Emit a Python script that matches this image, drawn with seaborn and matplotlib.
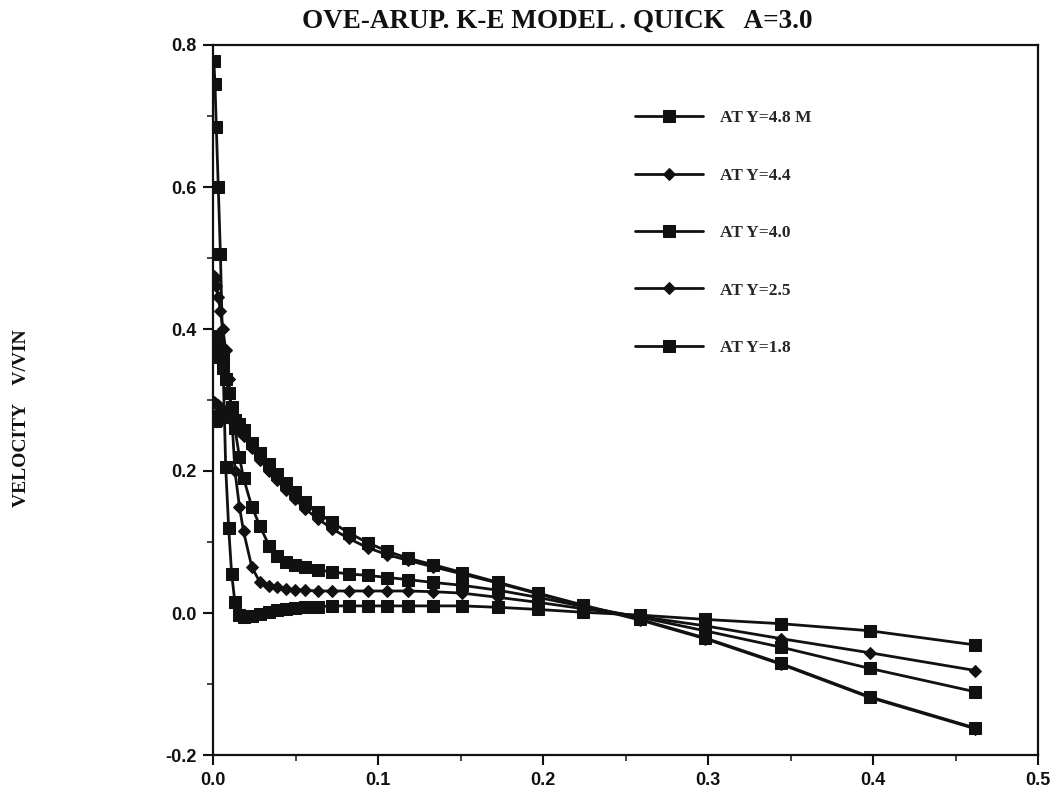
import matplotlib
matplotlib.use("Agg")
import matplotlib.pyplot as plt
from matplotlib.ticker import MultipleLocator
import seaborn as sns

# grid positions across the width (m) - same for every profile
x_pos = [0.0005, 0.0012, 0.002, 0.0032, 0.0045, 0.006, 0.0077, 0.0095, 0.0113, 0.0133,
         0.016, 0.0185, 0.0235, 0.0285, 0.034, 0.039, 0.0445, 0.0497, 0.0556, 0.0634,
         0.0719, 0.0822, 0.0937, 0.1057, 0.1184, 0.1335, 0.151, 0.173, 0.197, 0.2245,
         0.259, 0.298, 0.344, 0.398, 0.462]

# velocity profiles V/VIN
v_48 = [0.778, 0.745, 0.685, 0.600, 0.505, 0.360, 0.205, 0.120, 0.055, 0.015,
        -0.003, -0.006, -0.004, -0.001, 0.002, 0.004, 0.006, 0.007, 0.008, 0.009,
        0.010, 0.010, 0.010, 0.010, 0.010, 0.010, 0.010, 0.008, 0.005, 0.001,
        -0.003, -0.009, -0.015, -0.025, -0.045]
v_44 = [0.475, 0.470, 0.460, 0.445, 0.425, 0.400, 0.370, 0.330, 0.280, 0.200,
        0.150, 0.115, 0.065, 0.043, 0.038, 0.036, 0.034, 0.033, 0.032, 0.031,
        0.031, 0.031, 0.031, 0.031, 0.031, 0.030, 0.028, 0.022, 0.015, 0.006,
        -0.005, -0.018, -0.036, -0.056, -0.081]
v_40 = [0.390, 0.385, 0.380, 0.370, 0.360, 0.345, 0.330, 0.310, 0.290, 0.260,
        0.220, 0.190, 0.150, 0.122, 0.095, 0.080, 0.072, 0.068, 0.065, 0.061,
        0.058, 0.055, 0.053, 0.050, 0.047, 0.043, 0.039, 0.032, 0.022, 0.009,
        -0.006, -0.025, -0.048, -0.078, -0.111]
v_25 = [0.297, 0.296, 0.295, 0.293, 0.290, 0.286, 0.281, 0.276, 0.270, 0.264,
        0.257, 0.250, 0.232, 0.216, 0.200, 0.187, 0.173, 0.160, 0.147, 0.133,
        0.119, 0.105, 0.092, 0.082, 0.074, 0.065, 0.055, 0.042, 0.027, 0.010,
        -0.010, -0.036, -0.072, -0.119, -0.163]
v_18 = [0.270, 0.271, 0.272, 0.275, 0.278, 0.280, 0.280, 0.279, 0.276, 0.272,
        0.266, 0.258, 0.240, 0.225, 0.210, 0.196, 0.183, 0.170, 0.157, 0.142,
        0.128, 0.113, 0.099, 0.087, 0.077, 0.068, 0.057, 0.043, 0.028, 0.011,
        -0.009, -0.035, -0.071, -0.118, -0.162]

labels = ["AT Y=4.8 M", "AT Y=4.4", "AT Y=4.0", "AT Y=2.5", "AT Y=1.8"]
markers = ["s", "D", "s", "D", "s"]
profiles = [v_48, v_44, v_40, v_25, v_18]

sns.set_style("ticks")
plt.rcParams["font.family"] = ["Liberation Sans", "DejaVu Sans"]
plt.rcParams["axes.unicode_minus"] = False

fig = plt.figure(figsize=(10.62, 7.97), dpi=100)
ax = fig.add_axes([213 / 1062, 1 - 755 / 797, (1038 - 213) / 1062, (755 - 45) / 797])

for vals, lab, mk in zip(profiles, labels, markers):
    sns.lineplot(x=x_pos, y=vals, ax=ax, color="#111111", marker=mk,
                 markersize=8 if mk == "s" else 6.5, markeredgecolor="#111111",
                 linewidth=2.0, label=lab, sort=False, estimator=None)

ax.set_xlim(0, 0.5)
ax.set_ylim(-0.2, 0.8)
ax.xaxis.set_major_locator(MultipleLocator(0.1))
ax.xaxis.set_minor_locator(MultipleLocator(0.05))
ax.yaxis.set_major_locator(MultipleLocator(0.2))
ax.yaxis.set_minor_locator(MultipleLocator(0.1))
ax.tick_params(which="major", direction="out", length=7, width=1.5, pad=5,
               labelsize=13, colors="#111111")
ax.tick_params(which="minor", direction="out", length=4, width=1.2)
for lbl in ax.get_xticklabels() + ax.get_yticklabels():
    lbl.set_fontweight("bold")
for sp in ax.spines.values():
    sp.set_linewidth(1.6)
    sp.set_color("#111111")
ax.set_xlabel("")
ax.set_ylabel("")

leg = ax.legend(loc="upper left", bbox_to_anchor=(635 / 1062, 1 - 110 / 797),
                bbox_transform=fig.transFigure, frameon=False, borderpad=0,
                borderaxespad=0, handlelength=3.9, handletextpad=1.0,
                labelspacing=2.38,
                prop={"family": "Liberation Serif", "weight": "bold", "size": 12.5})

fig.text(557 / 1062, 1 - 21 / 797, "OVE-ARUP. K-E MODEL . QUICK   A=3.0",
         ha="center", va="center", fontsize=19.5, fontweight="bold",
         family="Liberation Serif", color="#111111")
fig.text(22 / 1062, 1 - 418 / 797, "VELOCITY    V/VIN", rotation=90,
         ha="center", va="center", fontsize=14, fontweight="bold",
         family="Liberation Serif", color="#111111")

plt.savefig("out.png", dpi=100)
plt.close()
